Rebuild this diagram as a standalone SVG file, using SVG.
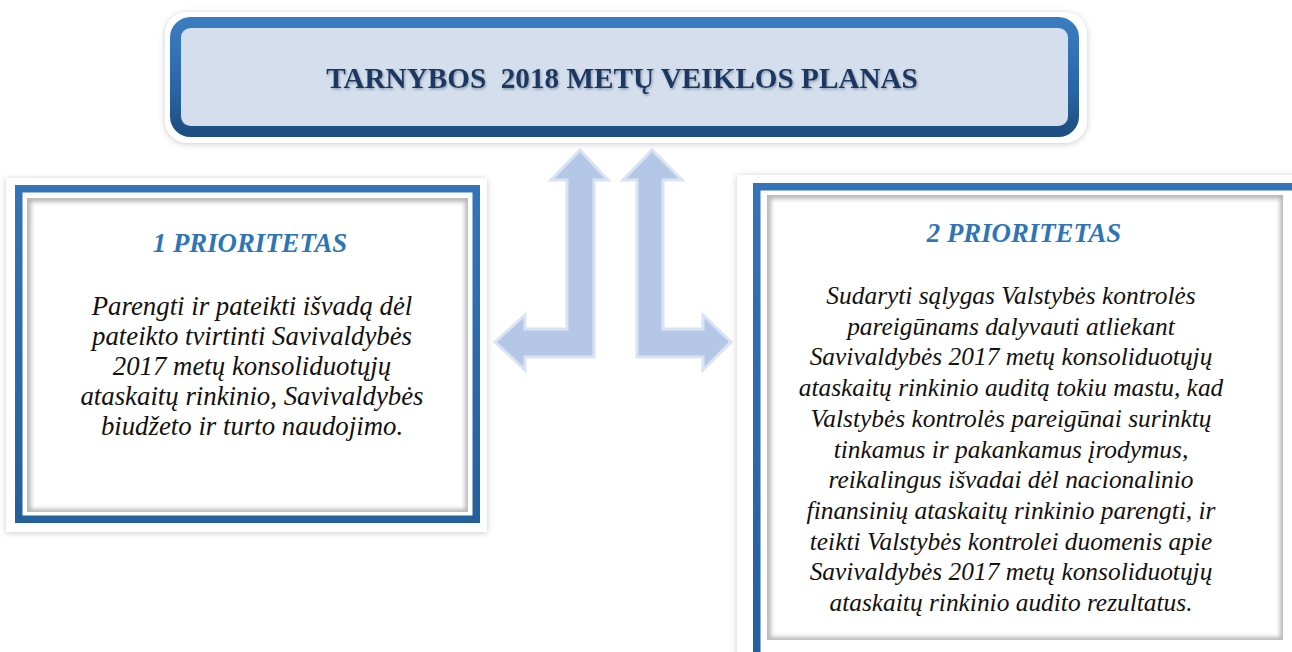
<svg xmlns="http://www.w3.org/2000/svg" width="1292" height="652" viewBox="0 0 1292 652">
  <style>
    text { font-family: 'Liberation Serif', 'Times New Roman', Times, serif; }
    .title { font-weight: bold; font-size: 29.2px; fill: #1d3860; text-anchor: middle; }
    .ptitle { font-weight: bold; font-style: italic; font-size: 26.8px; fill: #2e75b6; text-anchor: middle; }
    .body { font-style: italic; font-size: 26.8px; fill: #111; text-anchor: middle; }
    .body2 { font-style: italic; font-size: 25.4px; fill: #111; text-anchor: middle; }
    .frame { fill: #ffffff; filter: url(#outerShadow); }
    .band { fill: none; stroke: url(#bandGrad); stroke-width: 7.5; }
    .panelBase { fill: #b9b9b9; }
    .panelFace { fill: #ffffff; filter: url(#soft); }
    .arrow { fill: #b4c7e7; stroke: #dae3f3; stroke-width: 3; stroke-linejoin: miter; }
  </style>
  <defs>
    <filter id="outerShadow" x="-5%" y="-5%" width="110%" height="110%">
      <feDropShadow dx="0" dy="1" stdDeviation="3" flood-color="#8a8a8a" flood-opacity="0.45"/>
    </filter>
    <filter id="soft" x="-5%" y="-5%" width="110%" height="110%">
      <feGaussianBlur stdDeviation="2.2"/>
    </filter>
    <filter id="textShadow" x="-5%" y="-20%" width="110%" height="150%">
      <feDropShadow dx="1" dy="1.5" stdDeviation="1.3" flood-color="#5a6f8c" flood-opacity="0.6"/>
    </filter>
    <linearGradient id="bandGrad" x1="0" y1="0" x2="0" y2="1">
      <stop offset="0" stop-color="#3374b8"/>
      <stop offset="1" stop-color="#24609c"/>
    </linearGradient>
    <linearGradient id="topBorder" x1="0" y1="0" x2="0" y2="1">
      <stop offset="0" stop-color="#3a7cc0"/>
      <stop offset="0.6" stop-color="#2a66a6"/>
      <stop offset="1" stop-color="#1d4f82"/>
    </linearGradient>
  </defs>

  <g id="connectors">
    <polygon class="arrow" points="580,150 608,180 594,180 594,357 525,357 525,370 495,342 525,315 525,329 567,329 567,180 551,180"/>
    <polygon class="arrow" points="652,150 623,180 637,180 637,357 703,357 703,370 731,342 703,315 703,329 663,329 663,180 682,180"/>
  </g>

  <g id="top-node">
    <rect x="165" y="12" width="922" height="131" rx="22" fill="#ffffff" filter="url(#outerShadow)"/>
    <rect x="175.5" y="22.5" width="898" height="109" rx="15" fill="#d4deec" stroke="url(#topBorder)" stroke-width="11"/>
    <text class="title" x="622" y="88" filter="url(#textShadow)" xml:space="preserve">TARNYBOS  2018 METŲ VEIKLOS PLANAS</text>
  </g>

  <g id="priority-1">
    <rect class="frame" x="6" y="178" width="481" height="354"/>
    <rect class="band" x="18.75" y="188.75" width="457.5" height="330.5"/>
    <rect class="panelBase" x="27" y="198" width="441" height="314"/>
    <rect class="panelFace" x="31" y="202" width="434" height="307"/>
    <text class="ptitle" x="250" y="252">1 PRIORITETAS</text>
    <text class="body" x="252" y="315">Parengti ir pateikti išvadą dėl</text>
    <text class="body" x="252" y="345">pateikto tvirtinti Savivaldybės</text>
    <text class="body" x="252" y="375">2017 metų konsoliduotųjų</text>
    <text class="body" x="252" y="405">ataskaitų rinkinio, Savivaldybės</text>
    <text class="body" x="252" y="435">biudžeto ir turto naudojimo.</text>
  </g>

  <g id="priority-2">
    <rect class="frame" x="737" y="175" width="570" height="490"/>
    <rect class="band" x="756.75" y="186.75" width="545" height="470"/>
    <rect class="panelBase" x="767" y="195" width="516" height="445"/>
    <rect class="panelFace" x="771" y="199" width="509" height="438"/>
    <text class="ptitle" x="1024" y="242">2 PRIORITETAS</text>
    <text class="body2" x="1011" y="304">Sudaryti sąlygas Valstybės kontrolės</text>
    <text class="body2" x="1011" y="334.7">pareigūnams dalyvauti atliekant</text>
    <text class="body2" x="1011" y="365.4">Savivaldybės 2017 metų konsoliduotųjų</text>
    <text class="body2" x="1011" y="396.1">ataskaitų rinkinio auditą tokiu mastu, kad</text>
    <text class="body2" x="1011" y="426.8">Valstybės kontrolės pareigūnai surinktų</text>
    <text class="body2" x="1011" y="457.5">tinkamus ir pakankamus įrodymus,</text>
    <text class="body2" x="1011" y="488.2">reikalingus išvadai dėl nacionalinio</text>
    <text class="body2" x="1011" y="518.9">finansinių ataskaitų rinkinio parengti, ir</text>
    <text class="body2" x="1011" y="549.6">teikti Valstybės kontrolei duomenis apie</text>
    <text class="body2" x="1011" y="580.3">Savivaldybės 2017 metų konsoliduotųjų</text>
    <text class="body2" x="1011" y="611">ataskaitų rinkinio audito rezultatus.</text>
  </g>
</svg>
